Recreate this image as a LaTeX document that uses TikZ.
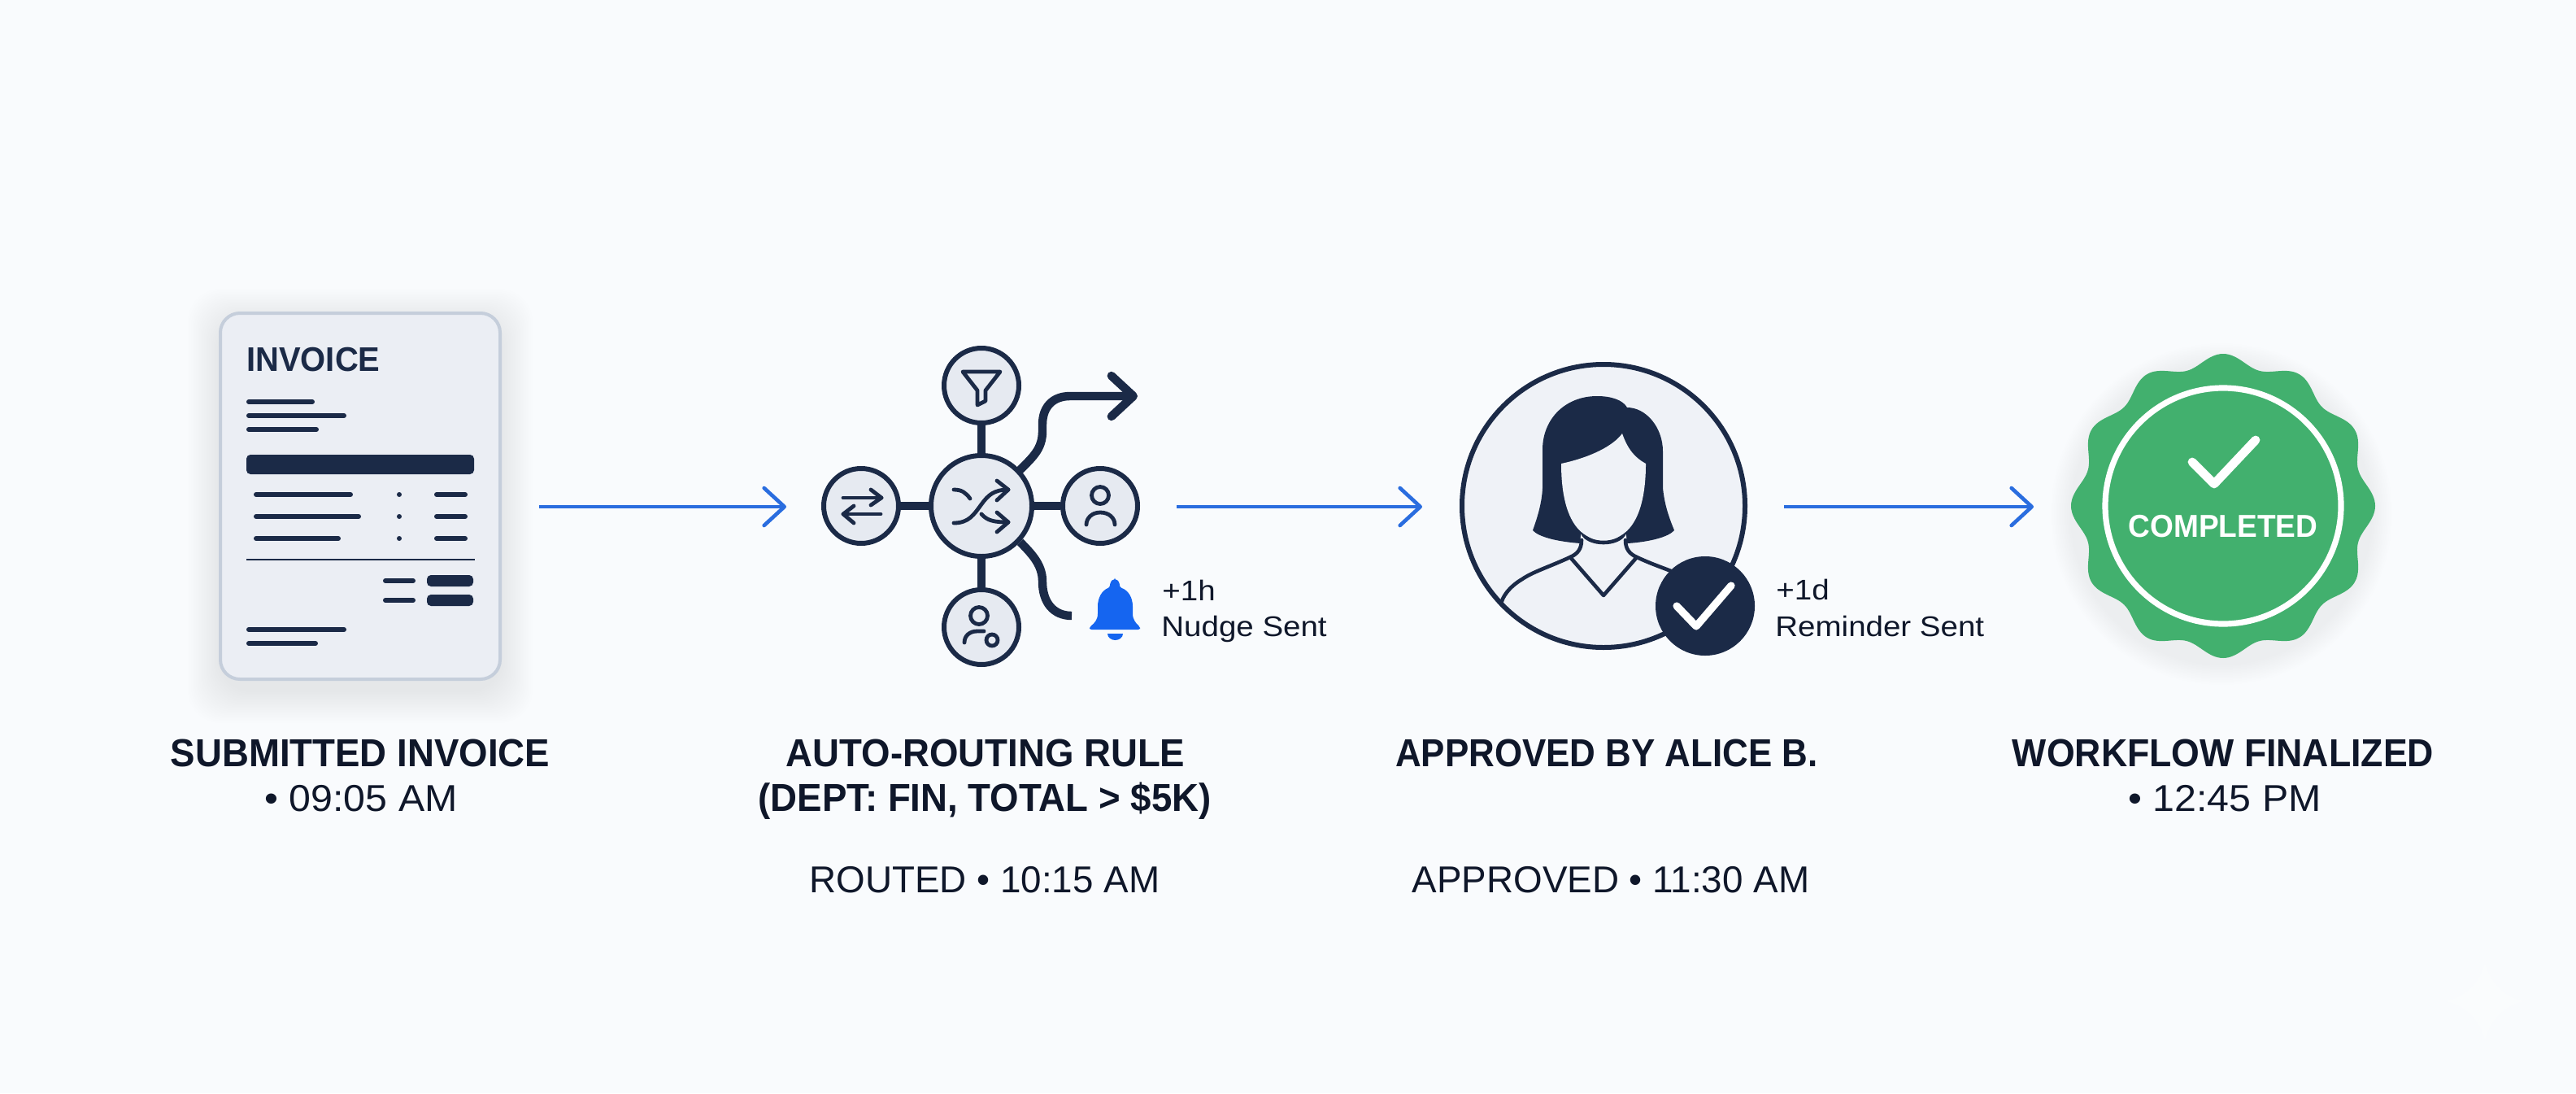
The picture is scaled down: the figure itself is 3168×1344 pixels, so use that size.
\documentclass[tikz,border=0pt]{standalone}
\usepackage{fontspec}
\setmainfont{Liberation Sans}
\newfontfamily\headfont{Liberation Sans}[FakeStretch=0.95]
\newfontfamily\headnarrow{Liberation Sans}[FakeStretch=0.915]
\newfontfamily\headmid{Liberation Sans}[FakeStretch=0.93]
\newfontfamily\subfont{Liberation Sans}[FakeStretch=1.05]
\newfontfamily\subnarrow{Liberation Sans}[FakeStretch=0.995]
\newfontfamily\notefont{Liberation Sans}[FakeStretch=1.1]
\usetikzlibrary{arrows.meta}
\definecolor{bgc}{HTML}{F9FBFD}
\definecolor{ink}{HTML}{1B2A47}
\definecolor{txt}{HTML}{0F172A}
\definecolor{cardf}{HTML}{EBEEF4}
\definecolor{cardl}{HTML}{C5CEDB}
\definecolor{disc}{HTML}{E6EAF1}
\definecolor{pale}{HTML}{EFF2F7}
\definecolor{flow}{HTML}{2A6DDF}
\definecolor{bell}{HTML}{1565F0}
\definecolor{seal}{HTML}{42B06E}
\tikzset{
  title/.style={anchor=base,text=txt,inner sep=0pt,font=\headfont\bfseries\fontsize{24pt}{24pt}\selectfont},
  titleb/.style={title,font=\headnarrow\bfseries\fontsize{24pt}{24pt}\selectfont},
  titlec/.style={title,font=\headmid\bfseries\fontsize{24pt}{24pt}\selectfont},
  stamp/.style={anchor=base,text=txt,inner sep=0pt,font=\subfont\fontsize{23pt}{23pt}\selectfont},
  stampb/.style={stamp,font=\subnarrow\fontsize{23pt}{23pt}\selectfont},
  note/.style={anchor=base west,text=txt,inner sep=0pt,font=\notefont\fontsize{17.5pt}{17.5pt}\selectfont},
  flowline/.style={draw=flow,line width=2.3pt,-{Straight Barb[length=12.5pt,width=23pt,round]}},
  rowline/.style={draw=ink,line width=3pt,line cap=round},
  hubnode/.style={circle,draw=ink,fill=disc,line width=3pt,minimum size=62pt,inner sep=0pt},
  satnode/.style={circle,draw=ink,fill=disc,line width=3pt,minimum size=46pt,inner sep=0pt},
  spoke/.style={draw=ink,line width=5.2pt},
  glyph/.style={draw=ink,line width=2.4pt,line cap=round,line join=round},
  route/.style={draw=ink,line width=5.2pt},
  figline/.style={draw=ink,line width=2.3pt,line cap=round,line join=round},
}
\begin{document}
\begin{tikzpicture}[x=0.5pt,y=-0.5pt]
\useasboundingbox (0,0) rectangle (3168,1344);
\fill[bgc] (0,0) rectangle (3168,1344);
% watermark
\fill[white,opacity=.3] (3056,1184) .. controls (3062,1208) and (3080,1226) .. (3103,1231) .. controls (3080,1236) and (3062,1254) .. (3056,1279) .. controls (3050,1254) and (3032,1236) .. (3008,1231) .. controls (3032,1226) and (3050,1208) .. (3056,1184) -- cycle;

% ---- invoice card
\foreach \g in {40,38,...,2}
  \fill[ink,opacity=.0022,rounded corners=20pt] (271-\g,385+10-\g) rectangle (615+\g,835+14+\g);
\node[draw=cardl,fill=cardf,line width=2pt,rounded corners=12pt,minimum width=172pt,minimum height=225pt,inner sep=0pt] (card) at (443,610) {};
\node[anchor=base west,text=ink,inner sep=0pt,font=\headfont\bfseries\fontsize{21pt}{21pt}\selectfont] (cardtitle) at (303,456) {INVOICE};
\draw[rowline] (306,494) -- (384,494);
\draw[rowline] (306,511) -- (423,511);
\draw[rowline] (306,528) -- (389,528);
\fill[ink,rounded corners=2.5pt] (303,559) rectangle (583,583);
\draw[rowline] (315,608) -- (431,608);
\draw[rowline] (315,635) -- (441,635);
\draw[rowline] (315,662) -- (416,662);
\draw[rowline] (537,608) -- (572,608);
\draw[rowline] (537,635) -- (572,635);
\draw[rowline] (537,662) -- (572,662);
\fill[ink] (491,608) circle[radius=1.5pt];
\fill[ink] (491,635) circle[radius=1.5pt];
\fill[ink] (491,662) circle[radius=1.5pt];
\draw[ink,line width=1.1pt] (303,688) -- (584,688);
\draw[rowline] (474,714) -- (508,714);
\draw[rowline] (474,738) -- (508,738);
\fill[ink,rounded corners=2.5pt] (525,707) rectangle (582,721);
\fill[ink,rounded corners=2.5pt] (525,731) rectangle (582,745);
\draw[rowline] (306,774) -- (423,774);
\draw[rowline] (306,791) -- (388,791);

% ---- routing hub
\coordinate (routetip) at (1399,487);
\coordinate (nudgeend) at (1318,757);
\node[hubnode] (hub) at (1207,622) {};
\node[satnode] (funnel) at (1207,474) {};
\node[satnode] (swap) at (1059,622) {};
\node[satnode] (user) at (1353,622) {};
\node[satnode] (assign) at (1207,771) {};
\draw[spoke] (hub) -- (funnel);
\draw[spoke] (hub) -- (swap);
\draw[spoke] (hub) -- (user);
\draw[spoke] (hub) -- (assign);
\draw[route,line cap=round,-{Straight Barb[length=13.5pt,width=25pt,round]}] (hub.43) .. controls (1270,562) and (1282,552) .. (1282,530) -- (1282,522) .. controls (1282,500) and (1295,487) .. (1316,487) -- (routetip);
\draw[route] (hub.-43) .. controls (1270,682) and (1282,695) .. (1282,715) .. controls (1282,740) and (1295,757) .. (nudgeend);
% funnel icon
\draw[glyph] (1184,457) -- (1230,457) -- (1212,480) -- (1212,493) -- (1202,498) -- (1202,480) -- cycle;
% swap icon
\draw[glyph] (1037,612) -- (1084,612);
\draw[glyph] (1071,602) -- (1084,612) -- (1071,621);
\draw[glyph] (1083,632) -- (1037,632);
\draw[glyph] (1050,622) -- (1037,632) -- (1050,643);
% user icon
\draw[glyph] (1353,609) circle[radius=10.5];
\draw[glyph] (1336,645) .. controls (1336,637) and (1343,630) .. (1353,630) .. controls (1364,630) and (1371,637) .. (1371,645);
% assign icon
\draw[glyph] (1204,757) circle[radius=10.5];
\draw[glyph] (1186,790) .. controls (1186,782) and (1192,776) .. (1202,776) -- (1210,776);
\draw[glyph] (1220,787) circle[radius=7];
% shuffle icon
\draw[glyph] (1173,602) .. controls (1183,602) and (1188,606) .. (1193,613);
\draw[glyph] (1207,632) .. controls (1214,640) and (1222,642) .. (1240,642);
\draw[glyph] (1173,643) .. controls (1192,643) and (1198,632) .. (1207,620) .. controls (1215,609) and (1222,602) .. (1240,602);
\draw[glyph] (1226,591) -- (1240,602) -- (1226,615);
\draw[glyph] (1226,630) -- (1240,642) -- (1226,654);
% bell
\fill[bell,rounded corners=1.2pt] (1371,713) .. controls (1375,713) and (1377,717) .. (1377,722) .. controls (1388,726) and (1393,735) .. (1393,748) -- (1393,752) .. controls (1393,762) and (1397,766) .. (1402,771) -- (1402,774) -- (1340,774) -- (1340,771) .. controls (1346,766) and (1350,762) .. (1350,752) -- (1350,748) .. controls (1350,735) and (1355,726) .. (1365,722) .. controls (1365,717) and (1367,713) .. (1371,713) -- cycle;
\fill[bell] (1362,779) -- (1381,779) .. controls (1381,784) and (1376,787) .. (1371.5,787) .. controls (1367,787) and (1362,784) .. (1362,779) -- cycle;
\node[note] (nudgetime) at (1429,738) {+1h};
\node[note] (nudge) at (1428,782) {Nudge Sent};

% ---- approver
\node[circle,draw=ink,fill=pale,line width=3pt,minimum size=174pt,inner sep=0pt] (portrait) at (1972,622) {};
\fill[ink] (1964,487) .. controls (1982,487) and (1996,492) .. (2001,501) .. controls (2024,501) and (2045,525) .. (2045,555) -- (2045,600) .. controls (2047,620) and (2052,635) .. (2059,652) .. controls (2052,660) and (2030,666) .. (2002,668) -- (1944,668) .. controls (1915,666) and (1892,660) .. (1885,652) .. controls (1893,630) and (1898,610) .. (1897,590) -- (1897,553) .. controls (1897,515) and (1925,487) .. (1964,487) -- cycle;
\fill[pale] (1945,650) -- (1999,650) -- (2002,677) -- (2013,685) -- (1972,732) -- (1931,685) -- (1942,677) -- cycle;
\draw[figline] (1945,664) .. controls (1945,675) and (1940,681) .. (1931,685) .. controls (1905,697) and (1885,703) .. (1872,712) .. controls (1855,722) and (1847,735) .. (1846,743);
\draw[figline] (1999,664) .. controls (1999,675) and (2004,681) .. (2013,685) .. controls (2030,693) and (2045,698) .. (2060,704);
\draw[figline] (1931,685) -- (1972,732) -- (2013,685);
\draw[figline] (1946,655) .. controls (1953,671) and (1991,671) .. (1998,655);
\fill[pale] (1920,570) .. controls (1957,562) and (1984,548) .. (1995,533) .. controls (2002,553) and (2011,563) .. (2024,570) .. controls (2024,640) and (2000,664) .. (1972,664) .. controls (1944,664) and (1920,640) .. (1920,570) -- cycle;
\node[circle,fill=ink,minimum size=61pt,inner sep=0pt] (okbadge) at (2097,745) {};
\draw[white,line width=4.6pt,line cap=round,line join=round] (2062,745) -- (2086,770) -- (2129,720);
\node[note] (remindtime) at (2184,737) {+1d};
\node[note] (remind) at (2183,782) {Reminder Sent};

% ---- seal
\foreach \g in {26,24,...,2}
  \fill[ink,opacity=.003] (2732,632) circle[radius=184+\g];
\fill[seal] plot[domain=0:360,samples=361,variable=\a] ({2734+(179.5+7.5*cos(12*\a))*cos(\a)},{622+(179.5+7.5*cos(12*\a))*sin(\a)}) -- cycle;
\node[circle,draw=white,line width=3.6pt,minimum size=145pt,inner sep=0pt] (seal) at (2734,622) {};
\draw[white,line width=5.4pt,line cap=round,line join=round] (2696,568) -- (2723,595) -- (2774,541);
\node[anchor=base,text=white,inner sep=0pt,font=\headfont\bfseries\fontsize{19.5pt}{19.5pt}\selectfont] (sealtext) at (2734,660) {COMPLETED};

% ---- flow arrows
\coordinate (f1a) at (663,623); \coordinate (f1b) at (967,623);
\coordinate (f2a) at (1447,623); \coordinate (f2b) at (1749,623);
\coordinate (f3a) at (2194,623); \coordinate (f3b) at (2501,623);
\draw[flowline] (f1a) -- (f1b);
\draw[flowline] (f2a) -- (f2b);
\draw[flowline] (f3a) -- (f3b);

% ---- captions
\node[title] (t1) at (443,942) {SUBMITTED INVOICE};
\node[stamp] (s1) at (444,997) {• 09:05 AM};
\node[title] (t2a) at (1212,942) {AUTO-ROUTING RULE};
\node[title] (t2b) at (1211,997) {(DEPT: FIN, TOTAL > \$5K)};
\node[stampb] (s2) at (1211,1097) {ROUTED • 10:15 AM};
\node[titleb] (t3) at (1976,942) {APPROVED BY ALICE B.};
\node[stampb] (s3) at (1981,1097) {APPROVED • 11:30 AM};
\node[titlec] (t4) at (2734,942) {WORKFLOW FINALIZED};
\node[stamp] (s4) at (2736,997) {• 12:45 PM};
\end{tikzpicture}
\end{document}
